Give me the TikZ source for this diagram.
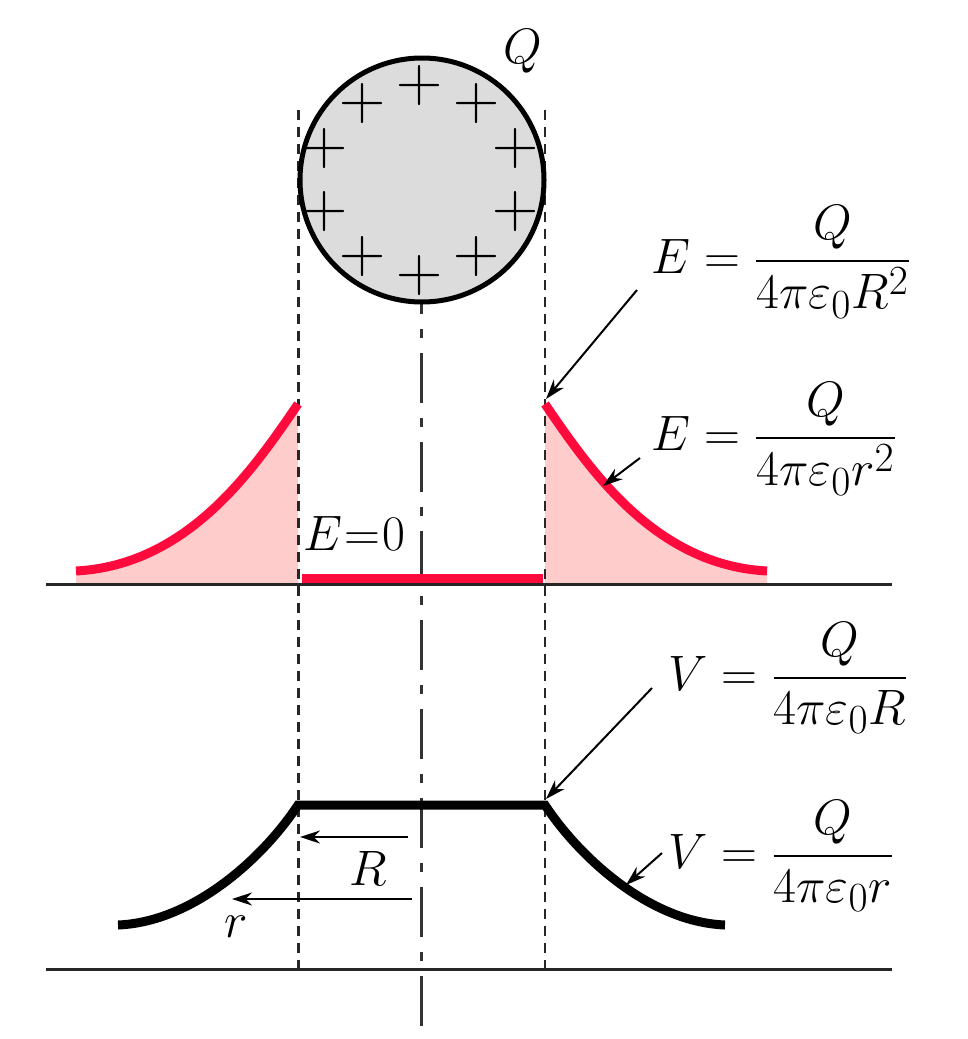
\documentclass[tikz,border=0pt]{standalone}
\usepackage{amsmath}
\usepackage{fontspec}
\usetikzlibrary{arrows.meta}
\definecolor{ered}{HTML}{FF0A3C}
\definecolor{epink}{HTML}{FFCCCC}
\definecolor{sgray}{HTML}{DCDCDC}
\begin{document}
\begin{tikzpicture}[x=0.5pt,y=-0.5pt,
  lbl/.style={inner sep=0pt, font=\fontsize{30}{36}\selectfont},
  plussign/.style={inner sep=0pt, font=\fontsize{32}{38}\selectfont},
  axisline/.style={line width=1.5pt, black!85},
  guide/.style={line width=1.3pt, black!85, dash pattern=on 5pt off 3.5pt},
  centerline/.style={line width=1.4pt, black!80, dash pattern=on 25pt off 7.5pt on 4.5pt off 7.5pt},
  ecurve/.style={line width=4.5pt, ered},
  vcurve/.style={line width=4.5pt, black},
  pointer/.style={line width=1pt, -{Stealth[length=10pt,width=6.5pt]}},
]
\useasboundingbox (0,0) rectangle (968,1039);

% pink areas under E curve
\fill[epink] (298,404) .. controls (253,470) and (188,565) .. (76,571) -- (76,584) -- (298,584) -- cycle;
\fill[epink] (545,404) .. controls (590,470) and (655,565) .. (767,571) -- (767,584) -- (545,584) -- cycle;

% axes
\coordinate (ax1l) at (46,584); \coordinate (ax1r) at (892,584);
\coordinate (ax2l) at (46,969); \coordinate (ax2r) at (892,969);
\draw[axisline] (ax1l) -- (ax1r);
\draw[axisline] (ax2l) -- (ax2r);

% guide lines
\coordinate (gl1) at (298.5,110); \coordinate (gl2) at (298.5,969);
\coordinate (gr1) at (545,110); \coordinate (gr2) at (545,969);
\draw[guide] (gl1) -- (gl2);
\draw[guide] (gr1) -- (gr2);

% center line
\coordinate (c1) at (421.5,264); \coordinate (c2) at (421.5,1039);
\draw[centerline] (c1) -- (c2);

% charged sphere
\node[circle, draw, line width=2.5pt, fill=sgray, minimum size=122pt, inner sep=0pt] (sphere) at (422,180) {};
\node[plussign] (p1) at (420,86) {+};
\node[plussign] (p2) at (363,104) {+};
\node[plussign] (p3) at (477,104) {+};
\node[plussign] (p4) at (325,149) {+};
\node[plussign] (p5) at (516,149) {+};
\node[plussign] (p6) at (325,212) {+};
\node[plussign] (p7) at (516,212) {+};
\node[plussign] (p8) at (363,257) {+};
\node[plussign] (p9) at (477,257) {+};
\node[plussign] (p10) at (420,276) {+};
\node[lbl, anchor=base] (qlabel) at (523,63) {$Q$};

% E curves
\draw[ecurve] (298,404) .. controls (253,470) and (188,565) .. (76,571);
\draw[ecurve] (545,404) .. controls (590,470) and (655,565) .. (767,571);
\coordinate (ez1) at (302,578); \coordinate (ez2) at (543,578);
\draw[ered, line width=4.5pt] (ez1) -- (ez2);
\node[lbl, anchor=base west] (ezero) at (303,550) {$E\kern1pt{=}\kern1pt0$};

% V curve
\draw[vcurve] (118,925) .. controls (193,922) and (263,858) .. (298,805) -- (545,805) .. controls (580,858) and (650,922) .. (725,925);

% equations
\node[lbl, anchor=base west] (eqER) at (651,273) {$E = \dfrac{Q}{4\pi\varepsilon_0 R^2}$};
\node[lbl, anchor=base west] (eqEr) at (651,450) {$E = \dfrac{Q}{4\pi\varepsilon_0 r^2}$};
\node[lbl, anchor=base west] (eqVR) at (668,690) {$V = \dfrac{Q}{4\pi\varepsilon_0 R}$};
\node[lbl, anchor=base west] (eqVr) at (668,868) {$V = \dfrac{Q}{4\pi\varepsilon_0 r}$};

% pointers
\coordinate (a1s) at (637,290); \coordinate (a1e) at (546,399);
\coordinate (a2s) at (640,458); \coordinate (a2e) at (603,486);
\coordinate (a3s) at (652,688); \coordinate (a3e) at (546,799);
\coordinate (a4s) at (662,853); \coordinate (a4e) at (626,885);
\draw[pointer] (a1s) -- (a1e);
\draw[pointer] (a2s) -- (a2e);
\draw[pointer] (a3s) -- (a3e);
\draw[pointer] (a4s) -- (a4e);

% radius arrows
\coordinate (Rs) at (408,837); \coordinate (Re) at (300,837);
\coordinate (rs) at (412,899); \coordinate (re) at (232,899);
\draw[pointer] (Rs) -- (Re);
\draw[pointer] (rs) -- (re);
\node[lbl, anchor=base] (Rlabel) at (368,885) {$R$};
\node[lbl, anchor=base] (rlabel) at (236,937) {$r$};
\end{tikzpicture}
\end{document}
